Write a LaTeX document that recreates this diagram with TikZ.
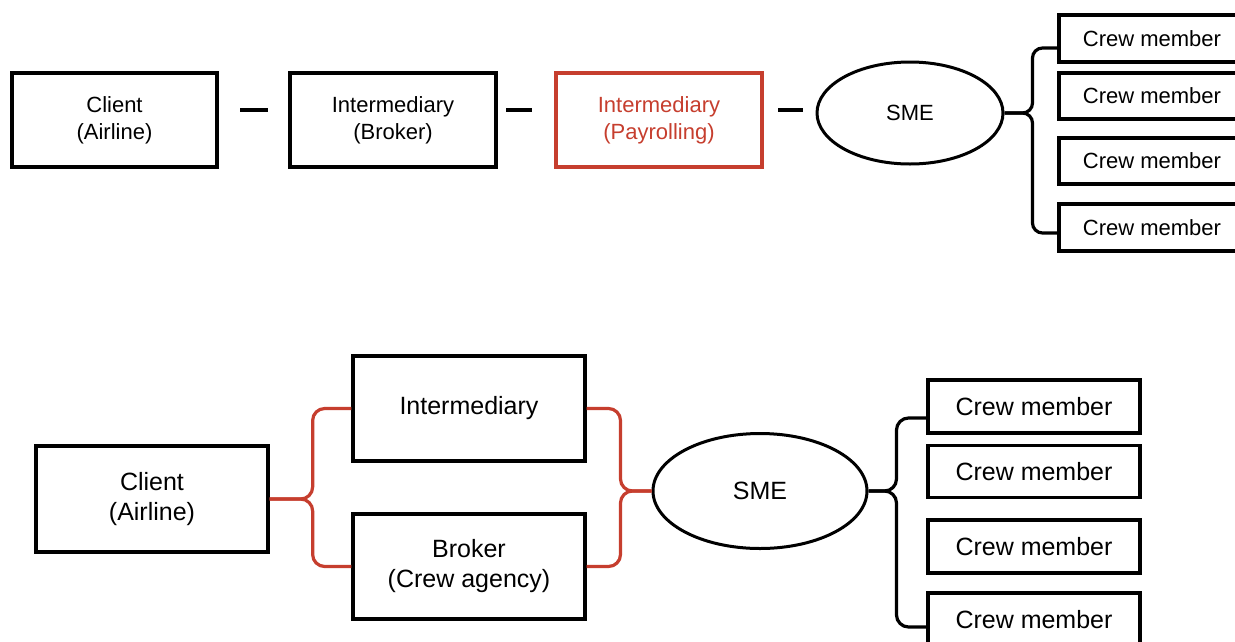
\documentclass[tikz,border=0pt]{standalone}
\usepackage{fontspec}
\setmainfont{Liberation Sans}
\usetikzlibrary{shapes.geometric}
\definecolor{rd}{RGB}{198,62,46}
\begin{document}
\begin{tikzpicture}[x=1pt,y=-1pt,
  box/.style={draw=black, line width=3.3pt, inner sep=0pt, align=center},
  ell/.style={ellipse, draw=black, line width=3pt, inner sep=0pt},
  tf/.style={font=\fontsize{22}{27}\selectfont},
  bf/.style={font=\fontsize{25}{30}\selectfont},
  conn/.style={draw=black, line width=3.2pt, rounded corners=10pt},
  rconn/.style={draw=rd, line width=3.2pt, rounded corners=12pt},
  dashline/.style={draw=black, line width=3.3pt}]
\useasboundingbox (0,0) rectangle (1235,641);
\clip (0,0) rectangle (1235,641);
% ---------- top row ----------
\node[box, tf, minimum width=205, minimum height=94] (c1) at (114.5,120) {Client\\(Airline)};
\node[box, tf, minimum width=206, minimum height=94] (b1) at (393,120) {Intermediary\\(Broker)};
\node[box, tf, draw=rd, text=rd, minimum width=206, minimum height=94] (p1) at (659,120) {Intermediary\\(Payrolling)};
\node[ell, tf, minimum width=186, minimum height=102] (s1) at (910,113) {SME};
\node[box, tf, minimum width=186, minimum height=47] (m1) at (1152,38.5) {Crew member};
\node[box, tf, minimum width=186, minimum height=46] (m2) at (1152,96) {Crew member};
\node[box, tf, minimum width=186, minimum height=46] (m3) at (1152,161) {Crew member};
\node[box, tf, minimum width=186, minimum height=47] (m4) at (1152,227.5) {Crew member};
\coordinate (d1a) at (240,110); \coordinate (d1b) at (268,110);
\coordinate (d2a) at (506,110); \coordinate (d2b) at (532,110);
\coordinate (d3a) at (778,110); \coordinate (d3b) at (803,110);
\draw[dashline] (d1a) -- (d1b);
\draw[dashline] (d2a) -- (d2b);
\draw[dashline] (d3a) -- (d3b);
\draw[conn] (s1.east) -- ++(28,0) |- ([yshift=-9.5pt]m1.west);
\draw[conn] (s1.east) -- ++(28,0) |- ([yshift=-5.5pt]m4.west);
% ---------- bottom row ----------
\node[box, bf, minimum width=232, minimum height=106] (c2) at (152,499) {Client\\(Airline)};
\node[box, bf, minimum width=232, minimum height=105] (i2) at (469,408.5) {Intermediary};
\node[box, bf, minimum width=232, minimum height=105] (k2) at (469,566.5) {Broker\\(Crew agency)};
\node[ell, bf, minimum width=214, minimum height=115] (s2) at (760,491) {SME};
\node[box, bf, minimum width=212, minimum height=53] (n1) at (1034,406.5) {Crew member};
\node[box, bf, minimum width=212, minimum height=52] (n2) at (1034,471.5) {Crew member};
\node[box, bf, minimum width=212, minimum height=53] (n3) at (1034,546.5) {Crew member};
\node[box, bf, minimum width=212, minimum height=53] (n4) at (1034,619.5) {Crew member};
\draw[rconn] (c2.east) -- ++(43,0) |- (i2.west);
\draw[rconn] (c2.east) -- ++(43,0) |- (k2.west);
\draw[rconn] (s2.west) -- ++(-31,0) |- (i2.east);
\draw[rconn] (s2.west) -- ++(-31,0) |- (k2.east);
\draw[conn, rounded corners=12pt] (s2.east) -- ++(28,0) |- ([yshift=-11.5pt]n1.west);
\draw[conn, rounded corners=12pt] (s2.east) -- ++(28,0) |- ([yshift=-7.5pt]n4.west);
\end{tikzpicture}
\end{document}
